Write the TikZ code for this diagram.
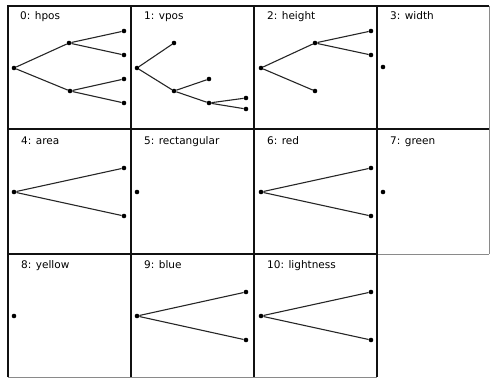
\documentclass[tikz,border=0pt]{standalone}
\usepackage{fontspec}
\setmainfont{DejaVu Sans}
\usepackage{tikz}
\usepackage{xcolor}
\definecolor{frame}{HTML}{111111}
\definecolor{edgegray}{HTML}{8A8A8A}
\begin{document}
\begin{tikzpicture}[x=1pt,y=-1pt,every node/.style={font=\fontsize{10.5}{12}\selectfont}]
      \tikzstyle{dot}=[circle,fill=black,inner sep=0pt,minimum size=4.6pt];
      \tikzstyle{title}=[anchor=base west,inner sep=0pt];
      \tikzstyle{branch}=[line width=1.1pt,black!85];
      \useasboundingbox (0,0) rectangle (490,378);
      % panel frames
      \draw[edgegray,line width=0.8pt] (489,6) -- (489,254);
      \draw[edgegray,line width=0.8pt] (8,377) -- (377,377);
      \draw[edgegray,line width=0.8pt] (377,254) -- (489,254);
      \draw[frame,line width=1.6pt] (8,377) -- (8,6) -- (489,6);
      \draw[frame,line width=1.6pt] (131,6) -- (131,377);
      \draw[frame,line width=1.6pt] (254,6) -- (254,377);
      \draw[frame,line width=1.4pt] (377,6) -- (377,377);
      \draw[frame,line width=1.6pt] (8,129) -- (489,129);
      \draw[frame,line width=1.6pt] (8,254) -- (377,254);
      % titles
      \node[title] (t0) at (20,19)   {0: hpos};
      \node[title] (t1) at (144,19)  {1: vpos};
      \node[title] (t2) at (267,19)  {2: height};
      \node[title] (t3) at (390,19)  {3: width};
      \node[title] (t4) at (21,144)  {4: area};
      \node[title] (t5) at (144,144) {5: rectangular};
      \node[title] (t6) at (267,144) {6: red};
      \node[title] (t7) at (390,144) {7: green};
      \node[title] (t8) at (21,268)  {8: yellow};
      \node[title] (t9) at (144,268) {9: blue};
      \node[title] (t10) at (267,268) {10: lightness};
      % 0: hpos
      \node[dot] (r0) at (14,68)  {};
      \node[dot] (a0) at (69,43)  {};
      \node[dot] (b0) at (70,91)  {};
      \node[dot] (c0) at (124,31) {};
      \node[dot] (d0) at (124,55) {};
      \node[dot] (e0) at (124,79) {};
      \node[dot] (f0) at (124,103) {};
      \draw[branch] (r0) -- (a0);
      \draw[branch] (r0) -- (b0);
      \draw[branch] (a0) -- (c0);
      \draw[branch] (a0) -- (d0);
      \draw[branch] (b0) -- (e0);
      \draw[branch] (b0) -- (f0);
      % 1: vpos
      \node[dot] (r1) at (137,68)  {};
      \node[dot] (a1) at (174,43)  {};
      \node[dot] (b1) at (174,91)  {};
      \node[dot] (c1) at (209,79)  {};
      \node[dot] (d1) at (209,103) {};
      \node[dot] (e1) at (246,98)  {};
      \node[dot] (f1) at (246,109) {};
      \draw[branch] (r1) -- (a1);
      \draw[branch] (r1) -- (b1);
      \draw[branch] (b1) -- (c1);
      \draw[branch] (b1) -- (d1);
      \draw[branch] (d1) -- (e1);
      \draw[branch] (d1) -- (f1);
      % 2: height
      \node[dot] (r2) at (261,68) {};
      \node[dot] (a2) at (315,43) {};
      \node[dot] (b2) at (315,91) {};
      \node[dot] (c2) at (371,31) {};
      \node[dot] (d2) at (371,55) {};
      \draw[branch] (r2) -- (a2);
      \draw[branch] (r2) -- (b2);
      \draw[branch] (a2) -- (c2);
      \draw[branch] (a2) -- (d2);
      % 3: width
      \node[dot] (r3) at (383,67) {};
      % 4: area
      \node[dot] (r4) at (14,192)  {};
      \node[dot] (a4) at (124,168) {};
      \node[dot] (b4) at (124,216) {};
      \draw[branch] (r4) -- (a4);
      \draw[branch] (r4) -- (b4);
      % 5: rectangular
      \node[dot] (r5) at (137,192) {};
      % 6: red
      \node[dot] (r6) at (261,192) {};
      \node[dot] (a6) at (371,168) {};
      \node[dot] (b6) at (371,216) {};
      \draw[branch] (r6) -- (a6);
      \draw[branch] (r6) -- (b6);
      % 7: green
      \node[dot] (r7) at (383,192) {};
      % 8: yellow
      \node[dot] (r8) at (14,316) {};
      % 9: blue
      \node[dot] (r9) at (137,316) {};
      \node[dot] (a9) at (246,292) {};
      \node[dot] (b9) at (246,340) {};
      \draw[branch] (r9) -- (a9);
      \draw[branch] (r9) -- (b9);
      % 10: lightness
      \node[dot] (r10) at (261,316) {};
      \node[dot] (a10) at (371,292) {};
      \node[dot] (b10) at (371,340) {};
      \draw[branch] (r10) -- (a10);
      \draw[branch] (r10) -- (b10);
    \end{tikzpicture}
\end{document}
